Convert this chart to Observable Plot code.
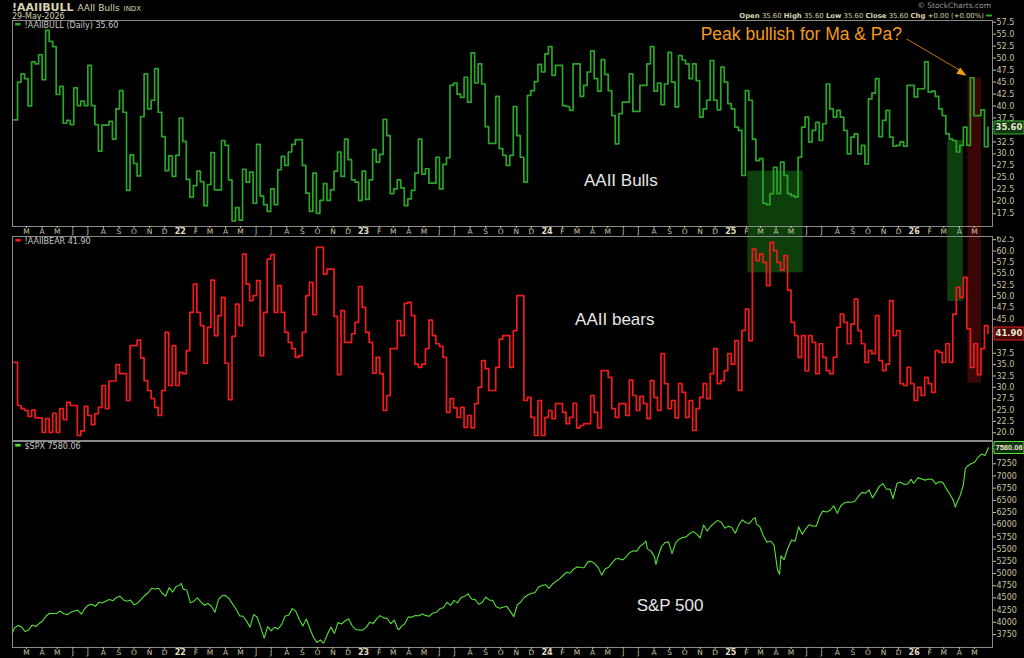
<!DOCTYPE html>
<html><head><meta charset="utf-8">
<script src="https://cdn.jsdelivr.net/npm/d3@7"></script>
<script src="https://cdn.jsdelivr.net/npm/@observablehq/plot@0.6"></script>
<style>
html,body{margin:0;padding:0;background:#000;}
#wrap{position:relative;width:1024px;height:658px;background:#000;overflow:hidden;font-family:"DejaVu Sans",sans-serif;}
.abs{position:absolute;white-space:nowrap;}
.hdr1{left:12px;top:1px;color:#d8d3b4;font-size:11px;font-weight:bold;}
.hdr1 span{font-weight:normal;font-size:9px;}
.hdr1 small{font-weight:normal;font-size:7px;}
.hdr2{left:12px;top:12px;color:#d8d3b4;font-size:8px;}
</style></head><body>
<div id="wrap">
  <div class="abs hdr1">!AAIIBULL <span>AAII Bulls</span> <small>INDX</small></div>
  <div class="abs hdr2">29-May-2026</div>
</div>
<script>
// ---------------- DATA ----------------
const weekStart = "2021-02-04"; // weekly AAII survey (Thursdays)
const bullValues = [
37.1,45.0,46.7,45.7,40.0,49.2,48.8,50.7,45.5,55.8,53.5,52.4,42.4,44.1,36.4,37.0,36.1,43.8,40.1,41.0,
40.1,48.5,40.1,36.1,30.6,36.0,36.0,36.8,33.1,39.4,43.2,38.7,22.4,29.8,28.0,25.4,37.8,46.7,39.4,41.2,
47.8,38.7,33.6,26.5,29.6,25.3,29.7,37.5,32.6,24.7,21.0,23.4,26.4,24.2,19.2,23.6,30.3,22.5,22.5,32.8,
31.8,24.6,16.0,18.8,16.2,26.8,24.1,26.2,19.7,32.0,21.2,19.4,18.0,22.7,19.4,26.7,29.5,27.6,30.4,32.0,
33.0,33.0,27.6,21.8,18.0,26.0,17.6,20.3,23.8,20.3,22.5,26.4,30.4,25.3,
33.1,28.8,24.6,24.1,20.3,26.4,20.5,24.6,30.9,28.3,29.9,37.2,33.8,21.7,22.7,24.6,22.9,19.2,20.6,22.4,
26.0,33.1,25.8,26.9,23.9,23.9,29.3,22.7,27.8,29.2,44.3,44.8,42.5,41.8,46.0,40.8,51.1,44.8,48.8,44.6,
35.7,32.2,32.2,42.0,31.1,29.7,27.6,29.7,39.9,33.8,29.3,24.1,42.2,43.2,45.1,48.7,47.1,50.9,52.4,46.4,
48.5,48.5,40.1,39.9,39.1,48.8,48.8,42.0,44.3,47.1,51.5,45.7,43.1,49.7,46.6,43.2,38.0,32.1,38.4,40.8,
40.8,46.7,38.9,38.9,44.3,44.3,48.8,52.4,43.1,44.8,40.3,44.6,
51.2,45.0,39.8,50.5,49.6,48.8,45.7,48.8,45.3,37.7,39.4,41.2,49.5,41.2,39.2,48.1,45.0,40.5,39.4,35.6,
34.9,25.5,43.2,41.2,33.1,28.6,29.0,19.7,19.4,21.7,27.2,21.7,28.3,25.5,21.7,21.3,21.0,29.3,35.6,37.7,
32.5,34.9,36.6,32.8,36.3,44.6,39.4,37.7,39.1,37.7,34.9,30.0,33.5,34.2,30.0,31.8,27.9,41.5,42.7,45.7,
33.6,37.0,39.1,33.5,31.6,31.8,32.5,31.6,44.3,44.3,41.9,43.6,43.6,49.2,42.9,43.1,42.0,39.4,38.0,34.2,
33.1,32.8,30.4,31.8,35.6,31.8,45.9,38.0,38.0,39.2,31.5,35.6];
const bearValues = [
35.5,26.0,25.3,24.9,23.6,25.0,23.3,23.3,20.1,23.1,20.1,24.3,20.1,25.3,22.9,26.7,26.0,26.0,19.4,20.4,
25.8,23.8,21.8,24.2,25.6,30.4,25.3,31.4,31.4,35.0,33.0,33.0,27.1,39.2,39.2,40.4,36.5,31.5,29.3,27.5,
25.6,23.8,29.3,42.1,30.4,39.2,30.4,33.3,33.0,38.1,46.5,52.7,46.5,43.6,35.3,43.2,53.6,41.4,45.8,49.8,
35.3,27.3,41.2,48.3,43.6,59.3,52.7,49.1,50.2,53.5,37.0,46.5,58.2,59.2,46.5,52.4,46.5,42.1,39.9,38.5,
36.6,37.0,42.1,50.2,53.1,46.0,60.8,60.8,54.9,56.0,56.0,45.6,32.8,46.9,
39.9,39.9,41.8,44.3,52.2,47.6,42.1,39.9,33.1,36.6,33.0,24.9,28.2,38.5,38.5,44.7,41.4,48.5,48.7,45.8,
35.1,34.4,35.1,38.5,44.8,41.4,39.6,39.0,36.6,24.5,27.5,25.5,23.4,25.6,21.2,23.8,21.1,26.4,30.0,35.9,
34.1,29.3,29.3,34.4,40.6,41.4,41.4,34.4,42.5,50.2,50.2,27.1,27.8,23.4,19.4,27.1,19.4,23.4,24.9,23.1,
26.4,26.4,24.5,22.0,23.4,26.5,21.1,21.6,22.0,22.0,28.2,24.5,21.1,33.7,33.7,32.2,25.3,23.4,26.4,26.4,
23.8,31.6,28.2,24.9,28.0,26.4,23.1,31.5,27.8,24.9,37.4,30.8,
25.3,27.1,23.3,30.8,28.9,23.4,27.1,20.5,25.3,27.8,30.8,27.5,33.0,38.5,30.8,31.5,33.7,37.4,35.1,40.3,
29.3,42.5,47.2,40.3,60.4,57.9,59.3,57.5,52.4,61.9,60.1,57.5,55.8,59.0,51.4,44.3,41.4,36.6,41.4,33.6,
41.4,39.9,33.0,39.6,36.6,33.7,33.0,36.6,43.2,46.1,44.3,39.6,43.9,49.4,42.5,39.6,35.5,38.1,37.4,45.8,
35.9,33.7,35.1,49.1,41.4,42.5,30.8,30.4,34.4,30.8,27.1,30.0,28.2,32.2,30.8,28.9,38.1,37.7,35.5,39.6,
35.5,46.1,52.0,49.8,54.2,42.9,34.4,39.6,32.8,38.5,43.6,41.9];
const spxDates = [
"2021-01-29","2021-02-05","2021-02-12","2021-02-19","2021-02-26","2021-03-05","2021-03-12","2021-03-19","2021-03-26","2021-04-01","2021-04-09","2021-04-16","2021-04-23","2021-04-30","2021-05-07","2021-05-14","2021-05-21","2021-05-28","2021-06-04","2021-06-11","2021-06-18","2021-06-25","2021-07-02","2021-07-09","2021-07-16","2021-07-23","2021-07-30","2021-08-06","2021-08-13","2021-08-20","2021-08-27","2021-09-03","2021-09-10","2021-09-17","2021-09-24","2021-10-01","2021-10-08","2021-10-15","2021-10-22","2021-10-29","2021-11-05","2021-11-12","2021-11-19","2021-11-26","2021-12-03","2021-12-10","2021-12-17","2021-12-23","2021-12-31",
"2022-01-03","2022-01-07","2022-01-14","2022-01-21","2022-01-28","2022-02-04","2022-02-11","2022-02-18","2022-02-25","2022-03-04","2022-03-11","2022-03-18","2022-03-25","2022-04-01","2022-04-08","2022-04-14","2022-04-22","2022-04-29","2022-05-06","2022-05-13","2022-05-20","2022-05-27","2022-06-03","2022-06-10","2022-06-17","2022-06-24","2022-07-01","2022-07-08","2022-07-15","2022-07-22","2022-07-29","2022-08-05","2022-08-12","2022-08-19","2022-08-26","2022-09-02","2022-09-09","2022-09-16","2022-09-23","2022-09-30","2022-10-07","2022-10-12","2022-10-14","2022-10-21","2022-10-28","2022-11-04","2022-11-11","2022-11-18","2022-11-25","2022-12-02","2022-12-09","2022-12-16","2022-12-23","2022-12-30",
"2023-01-06","2023-01-13","2023-01-20","2023-01-27","2023-02-03","2023-02-10","2023-02-17","2023-02-24","2023-03-03","2023-03-10","2023-03-13","2023-03-17","2023-03-24","2023-03-31","2023-04-06","2023-04-14","2023-04-21","2023-04-28","2023-05-05","2023-05-12","2023-05-19","2023-05-26","2023-06-02","2023-06-09","2023-06-16","2023-06-23","2023-06-30","2023-07-07","2023-07-14","2023-07-21","2023-07-28","2023-08-04","2023-08-11","2023-08-18","2023-08-25","2023-09-01","2023-09-08","2023-09-15","2023-09-22","2023-09-29","2023-10-06","2023-10-13","2023-10-20","2023-10-27","2023-11-03","2023-11-10","2023-11-17","2023-11-24","2023-12-01","2023-12-08","2023-12-15","2023-12-22","2023-12-29",
"2024-01-05","2024-01-12","2024-01-19","2024-01-26","2024-02-02","2024-02-09","2024-02-16","2024-02-23","2024-03-01","2024-03-08","2024-03-15","2024-03-22","2024-03-28","2024-04-05","2024-04-12","2024-04-19","2024-04-26","2024-05-03","2024-05-10","2024-05-17","2024-05-24","2024-05-31","2024-06-07","2024-06-14","2024-06-21","2024-06-28","2024-07-05","2024-07-12","2024-07-16","2024-07-19","2024-07-26","2024-08-02","2024-08-05","2024-08-09","2024-08-16","2024-08-23","2024-08-30","2024-09-06","2024-09-13","2024-09-20","2024-09-27","2024-10-04","2024-10-11","2024-10-18","2024-10-25","2024-11-01","2024-11-08","2024-11-15","2024-11-22","2024-11-29","2024-12-06","2024-12-13","2024-12-20","2024-12-27",
"2025-01-03","2025-01-10","2025-01-17","2025-01-24","2025-01-31","2025-02-07","2025-02-14","2025-02-19","2025-02-21","2025-02-28","2025-03-07","2025-03-14","2025-03-21","2025-03-28","2025-04-04","2025-04-08","2025-04-11","2025-04-17","2025-04-25","2025-05-02","2025-05-09","2025-05-16","2025-05-23","2025-05-30","2025-06-06","2025-06-13","2025-06-20","2025-06-27","2025-07-03","2025-07-11","2025-07-18","2025-07-25","2025-08-01","2025-08-08","2025-08-15","2025-08-22","2025-08-29","2025-09-05","2025-09-12","2025-09-19","2025-09-26","2025-10-03","2025-10-10","2025-10-17","2025-10-24","2025-10-31","2025-11-07","2025-11-14","2025-11-20","2025-11-28","2025-12-05","2025-12-12","2025-12-19","2025-12-26","2025-12-31",
"2026-01-09","2026-01-16","2026-01-23","2026-01-30","2026-02-06","2026-02-13","2026-02-20","2026-02-27","2026-03-06","2026-03-13","2026-03-20","2026-03-24","2026-03-27","2026-04-02","2026-04-09","2026-04-13","2026-04-17","2026-04-24","2026-05-01","2026-05-08","2026-05-15","2026-05-22","2026-05-29"];
const spxValues = [
3714,3886,3934,3906,3811,3842,3943,3913,3974,4020,4129,4185,4180,4181,4233,4174,4156,4204,4230,4247,4166,4281,4352,4370,4327,4412,4395,4437,4468,4442,4509,4535,4458,4433,4455,4357,4391,4471,4545,4605,4697,4683,4698,4595,4538,4712,4620,4726,4766,
4796,4677,4663,4398,4432,4501,4419,4349,4385,4329,4204,4463,4543,4546,4488,4392,4272,4132,4123,4024,3901,4158,4109,3901,3675,3912,3825,3899,3863,3962,4130,4145,4280,4228,4058,3924,4067,3873,3693,3586,3640,3577,3583,3753,3901,3771,3993,3965,4026,4072,3934,3852,3845,3840,
3895,3999,3973,4071,4136,4090,4079,3970,4046,3862,3855,3917,3971,4109,4105,4138,4133,4169,4136,4124,4192,4205,4282,4299,4410,4348,4450,4399,4505,4536,4582,4478,4464,4370,4406,4516,4457,4450,4320,4288,4309,4327,4224,4117,4358,4415,4514,4559,4595,4604,4719,4755,4770,
4697,4784,4840,4891,4959,5027,5006,5089,5137,5124,5117,5234,5254,5204,5123,4967,5100,5128,5223,5303,5305,5278,5347,5431,5465,5460,5567,5615,5667,5505,5459,5346,5186,5344,5554,5635,5648,5408,5626,5703,5738,5751,5815,5864,5808,5729,5996,5870,5969,6032,6090,6051,5931,5971,
5942,5827,5997,6101,6041,6026,6115,6144,6013,5955,5770,5639,5667,5581,5074,4982,5363,5283,5525,5687,5660,5958,5803,5912,6000,5977,5968,6173,6279,6260,6297,6389,6238,6389,6450,6467,6460,6482,6584,6664,6644,6716,6552,6664,6792,6840,6729,6734,6538,6849,6870,6827,6834,6930,6845,
6966,6940,6915,6939,6932,6836,6880,6870,6740,6630,6500,6360,6450,6580,6820,7150,7200,7250,7280,7380,7450,7420,7580.06];
const monthLetters = ["J","F","M","A","M","J","J","A","S","O","N","D"];
const bullTicks = [17.5,20,22.5,25,27.5,30,32.5,35,37.5,40,42.5,45,47.5,50,52.5,55,57.5];
const bearTicks = [20,22.5,25,27.5,30,32.5,35,37.5,40,42.5,45,47.5,50,52.5,55,57.5,60,62.5];
const spxTicks = [3750,4000,4250,4500,4750,5000,5250,5500,5750,6000,6250,6500,6750,7000,7250,7500];
const lastBull = 35.60, lastBear = 41.90, lastSpx = 7580.06;
const quote = [["Open", true], [" 35.60 ", false], ["High", true], [" 35.60 ", false], ["Low", true], [" 35.60 ", false], ["Close", true], [" 35.60 ", false], ["Chg", true], [" +0.00 (+0.00%)", false]];
// highlight boxes (dates, and value bounds in each panel)
const boxes = [
  {x1:"2025-02-04", x2:"2025-05-25", bullTop:26.4, bearBottom:55.2, fill:"#1c8c1c", op:0.45},
  {x1:"2026-03-09", x2:"2026-04-09", bullTop:32.8, bearBottom:48.9, fill:"#1c8c1c", op:0.45},
  {x1:"2026-04-18", x2:"2026-05-15", bullTop:45.9, bearBottom:30.9, fill:"#b01010", op:0.35}
];
const notes = {
  peak:{text:"Peak bullish for Ma & Pa?", date:"2024-11-02", value:53.8},
  arrow:{x1:"2025-12-17", y1:54.0, x2:"2026-04-03", y2:47.4, head:"2026-04-05", headY:47.0},
  bulls:{text:"AAII Bulls", date:"2024-05-27", value:23.4},
  bears:{text:"AAII bears", date:"2024-05-15", value:43.8},
  spx:{text:"S&P 500", date:"2024-09-02", value:4222}
};
// ---------------- BUILD ----------------
const D = s => new Date(s + "T00:00:00Z");
const weekly = (vals) => vals.map((v, i) => ({date: new Date(D(weekStart).getTime() + i * 7 * 864e5), value: v}));
const bull = weekly(bullValues), bear = weekly(bearValues);
const spx = spxDates.map((d, i) => ({date: D(d), value: spxValues[i]}));
const xDomain = [D("2021-02-01"), D("2026-06-06")];
const months = d3.utcMonth.range(D("2021-03-01"), D("2026-05-02"));
const janTicks = months.filter(d => d.getUTCMonth() === 0);
const monTicks = months.filter(d => d.getUTCMonth() !== 0);
const W = 1024, ML = 12, MR = 32;
const AX = "#c9c3a3", FRAME = "#8a8a8a", LEG = "#c8c8c8";
const BULL = "#2aa52a", BEAR = "#ee1c1c", SPXC = "#55e038";
const style = {background:"#000", color: AX, fontFamily:"DejaVu Sans, sans-serif", overflow:"visible"};
const arrowHead = {draw(ctx, size) { const r = Math.sqrt(size / Math.PI); ctx.moveTo(1.7 * r, 0); ctx.lineTo(-r, -r); ctx.lineTo(-r, r); ctx.closePath(); }};

function xAxes() {
  return [
    Plot.axisX(monTicks, {anchor:"bottom", label: null, tickSize:2, tickPadding:0, fontSize:7.5, tickFormat: d => monthLetters[d.getUTCMonth()], color: AX}),
    Plot.axisX(janTicks, {anchor:"bottom", label: null, tickSize:2, tickPadding:0, fontSize:8, fontWeight:"bold", tickFormat: d => String(d.getUTCFullYear()).slice(2), color: "#e0dcc0"})
  ];
}
// tick labels hidden behind the last-value tag (as on the original)
function yAxis(ticks, fmt, lastValue, hideWithin) {
  return Plot.axisY(ticks.filter(t => Math.abs(t - lastValue) > hideWithin), {anchor:"right", label: null, tickSize:3, tickPadding:1, fontSize:8, tickFormat: fmt, color: AX});
}
function legend(label, col) {
  return [
    Plot.text([label], {frameAnchor:"top-left", dx:12, dy:2, fill: LEG, fontSize:8, textAnchor:"start"}),
    Plot.text(["▬"], {frameAnchor:"top-left", dx:2, dy:1, fill: col, fontSize:7, textAnchor:"start"})
  ];
}
function tag(value, txt, stroke, fill, fs) {
  return Plot.tip([value], {y: d => d, frameAnchor:"right", anchor:"left", title: () => txt,
    fill, stroke, textPadding:1.5, pointerSize:3, fontSize:fs, pathFilter:"none", strokeWidth:1});
}
function fixTips(svg, color, family) {
  d3.select(svg).selectAll('g[aria-label="tip"] text').attr("fill", color).attr("stroke", "none")
    .style("font-weight", "bold").style("font-family", family);
}
const bigText = {fill:"#e6e6e6", fontSize:17, fontFamily:"Liberation Sans, Arial, sans-serif", lineAnchor:"bottom"};

// Panel 1: bulls
const p1 = Plot.plot({
  width: W, height: 217, marginLeft: ML, marginRight: MR, marginTop: 1, marginBottom: 10,
  style,
  x: {type:"utc", domain: xDomain, label: null},
  y: {domain: [14.85, 57.85], label: null},
  marks: [
    Plot.rect(boxes, {x1: d => D(d.x1), x2: d => D(d.x2), y1: d => d.bullTop, y2: 12.76, fill: d => d.fill, fillOpacity: d => d.op}),
    Plot.frame({stroke: FRAME}),
    Plot.line(bull, {x:"date", y:"value", curve:"step-after", stroke: BULL, strokeWidth:1.7}),
    ...xAxes(),
    yAxis(bullTicks, d3.format(".1f"), lastBull, 1.8),
    ...legend("!AAIIBULL (Daily) 35.60", BULL),
    Plot.text([notes.bulls], {x: d => D(d.date), y:"value", text:"text", ...bigText}),
    Plot.text([notes.peak], {x: d => D(d.date), y:"value", text:"text", ...bigText, fill:"#f29b1d", fontSize:17.5, textAnchor:"start"}),
    Plot.link([notes.arrow], {x1: d => D(d.x1), y1:"y1", x2: d => D(d.x2), y2:"y2", stroke:"#c07a12", strokeWidth:1}),
    Plot.dot([notes.arrow], {x: d => D(d.head), y:"headY", symbol: arrowHead, r:3.6, fill:"#f2a010", stroke:"none", rotate:31.5}),
    tag(lastBull, "35.60", "#36b036", "#123812", 8.5)
  ]
});
fixTips(p1, "#e8e8d0", "DejaVu Sans, sans-serif");

// Panel 2: bears
const p2 = Plot.plot({
  width: W, height: 206, marginLeft: ML, marginRight: MR, marginTop: 1, marginBottom: 1,
  style,
  x: {type:"utc", domain: xDomain, axis: null, label: null},
  y: {domain: [18.3, 63.2], label: null},
  marks: [
    Plot.rect(boxes, {x1: d => D(d.x1), x2: d => D(d.x2), y1: 63.2, y2: d => d.bearBottom, fill: d => d.fill, fillOpacity: d => d.op}),
    Plot.frame({stroke: FRAME}),
    Plot.line(bear, {x:"date", y:"value", curve:"step-after", stroke: BEAR, strokeWidth:1.7}),
    yAxis(bearTicks, d3.format(".1f"), lastBear, 2.0),
    ...legend("!AAIIBEAR 41.90", BEAR),
    Plot.text([notes.bears], {x: d => D(d.date), y:"value", text:"text", ...bigText}),
    tag(lastBear, "41.90", "#e02020", "#4a0a0a", 8.5)
  ]
});
fixTips(p2, "#e8e8d0", "DejaVu Sans, sans-serif");

// Panel 3: S&P 500
const p3 = Plot.plot({
  width: W, height: 218, marginLeft: ML, marginRight: MR, marginTop: 1, marginBottom: 11,
  style,
  x: {type:"utc", domain: xDomain, label: null},
  y: {domain: [3483, 7707], label: null},
  marks: [
    Plot.frame({stroke: FRAME}),
    Plot.line(spx, {x:"date", y:"value", stroke: SPXC, strokeWidth:1.1, clip: true}),
    ...xAxes(),
    yAxis(spxTicks, d => String(d), lastSpx, 180),
    ...legend("$SPX 7580.06", SPXC),
    Plot.text([notes.spx], {x: d => D(d.date), y:"value", text:"text", ...bigText}),
    tag(lastSpx, "7580.06", "#55e038", "#10300c", 7.5)
  ]
});
fixTips(p3, "#e8e8d0", "Liberation Sans, Arial, sans-serif");

// right-hand header (copyright + quote line), right-aligned on the chart frame
const hdr = d3.create("svg").attr("width", W).attr("height", 20)
  .style("position", "absolute").style("left", "0px").style("top", "0px")
  .attr("font-family", "DejaVu Sans, sans-serif");
hdr.append("text").attr("x", 991).attr("y", 8).attr("text-anchor", "end")
  .attr("fill", "#9a9a9a").attr("font-size", 7.5).text("© StockCharts.com");
const q = hdr.append("text").attr("x", 984).attr("y", 18).attr("text-anchor", "end")
  .attr("fill", "#d8d3b4").attr("font-size", 6.9);
quote.forEach(([s, b]) => q.append("tspan").attr("font-weight", b ? "bold" : "normal").text(s));
hdr.append("line").attr("x1", 986).attr("x2", 992).attr("y1", 15.5).attr("y2", 15.5)
  .attr("stroke", "#2faa2f").attr("stroke-width", 2);

const wrap = document.getElementById("wrap");
[[p1, 19], [p2, 235], [p3, 440]].forEach(([svg, top]) => {
  const div = document.createElement("div");
  div.className = "abs";
  div.style.left = "0px"; div.style.top = top + "px";
  div.appendChild(svg);
  wrap.insertBefore(div, wrap.firstChild);
});
wrap.appendChild(hdr.node());
</script>
</body></html>
